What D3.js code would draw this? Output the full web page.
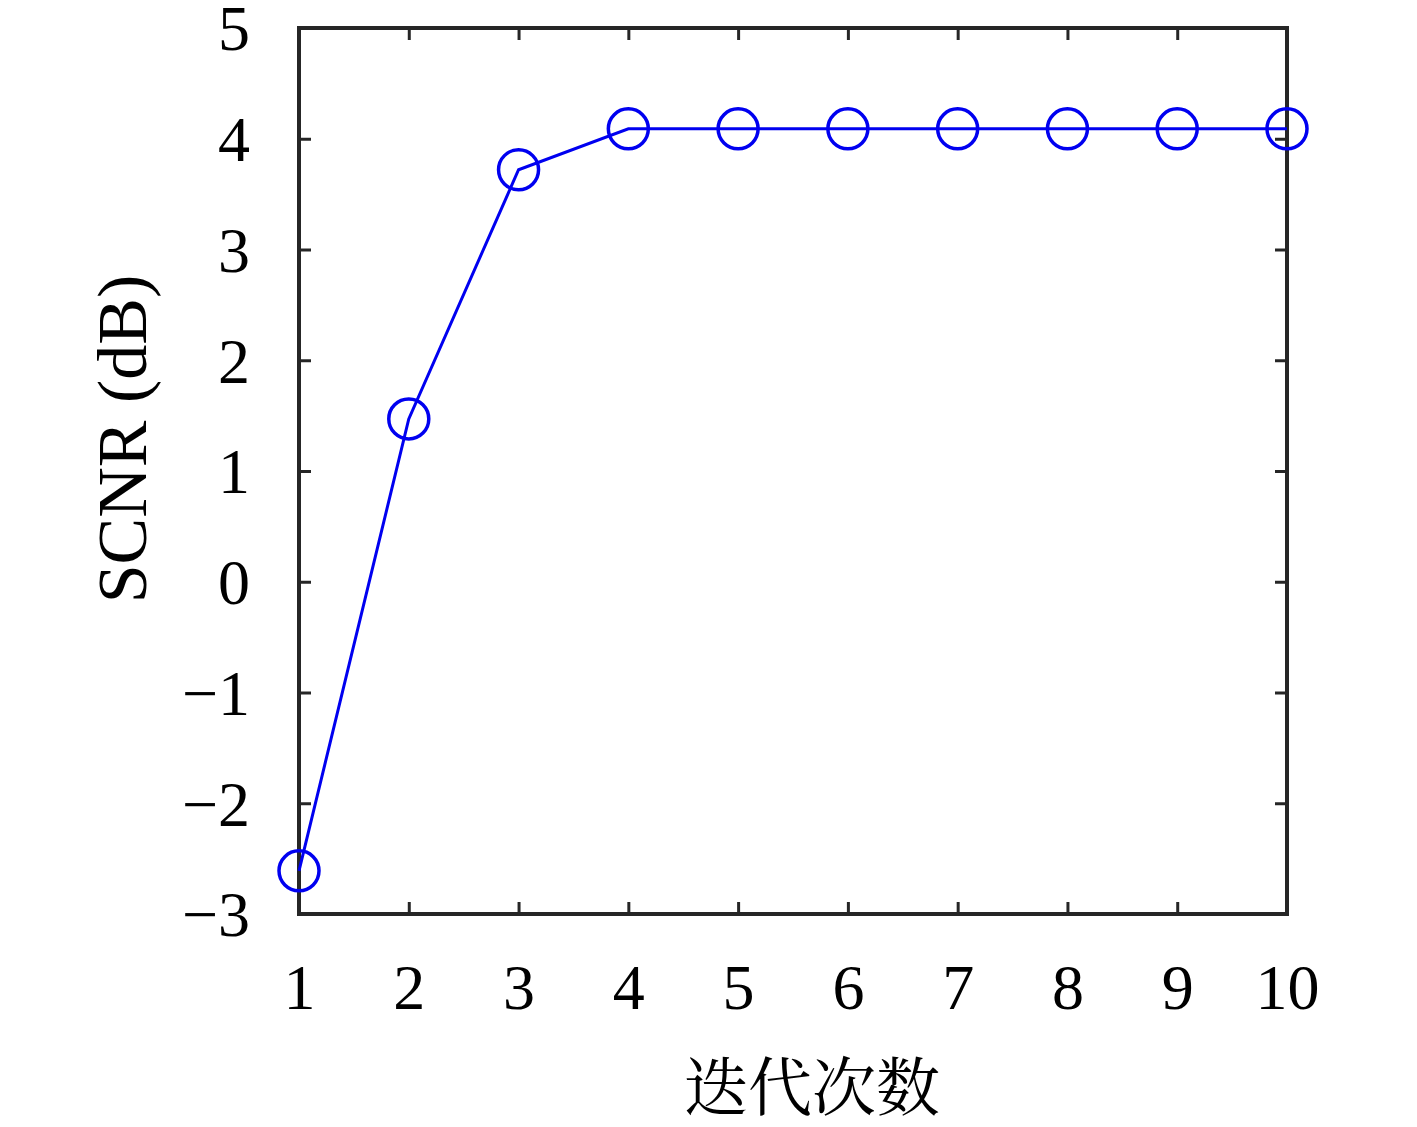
<!DOCTYPE html>
<html>
<head>
<meta charset="utf-8">
<script src="https://cdn.jsdelivr.net/npm/d3@7"></script>
<style>
  body { margin: 0; background: #fff; }
  #chart { width: 1417px; height: 1127px; }
</style>
</head>
<body>
<div id="chart"></div>
<script>
let iterations = [1, 2, 3, 4, 5, 6, 7, 8, 9, 10],
    scnr = [-2.61, 1.47, 3.72, 4.09, 4.09, 4.09, 4.09, 4.09, 4.09, 4.09],
    yTicks = [-3, -2, -1, 0, 1, 2, 3, 4, 5];

let width = 1417,
    height = 1127,
    margin = {left: 299, top: 28, right: 130, bottom: 213},
    clipWidth = width - margin.left - margin.right,
    clipHeight = height - margin.top - margin.bottom;

let svg = d3.select('#chart').append('svg')
    .attr('width', width)
    .attr('height', height);

let g = svg.append('g')
    .attr('transform', `translate(${margin.left}, ${margin.top})`);

let xScale = d3.scaleLinear().domain([1, 10]).range([0, clipWidth]);
let yScale = d3.scaleLinear().domain([-3, 5]).range([clipHeight, 0]);

let axisColor = '#262626',
    serif = '"Liberation Serif", "DejaVu Serif", serif';

// ticks pointing inward on all four sides
function styleAxis(sel) {
    sel.select('.domain').remove();
    sel.selectAll('.tick line').attr('stroke', axisColor).attr('stroke-width', 3);
    sel.selectAll('.tick text')
        .attr('fill', '#000')
        .style('font-family', serif)
        .style('font-size', '64px');
}

g.append('g')
    .attr('transform', `translate(0, ${clipHeight})`)
    .call(d3.axisBottom(xScale).tickValues(iterations).tickSize(-12)
        .tickFormat(d3.format('d')))
    .call(styleAxis)
    .selectAll('.tick text')
    .attr('y', 95)
    .attr('dy', null);

g.append('g')
    .call(d3.axisTop(xScale).tickValues(iterations).tickSize(-12).tickFormat(''))
    .call(styleAxis);

g.append('g')
    .call(d3.axisLeft(yScale).tickValues(yTicks).tickSize(-12).tickPadding(49)
        .tickFormat(d => d < 0 ? '\u2212' + Math.abs(d) : d))
    .call(styleAxis)
    .selectAll('.tick text')
    .attr('dy', '0.34em');

g.append('g')
    .attr('transform', `translate(${clipWidth}, 0)`)
    .call(d3.axisRight(yScale).tickValues(yTicks).tickSize(-12).tickFormat(''))
    .call(styleAxis);

// box
g.append('rect')
    .attr('width', clipWidth)
    .attr('height', clipHeight)
    .attr('fill', 'none')
    .attr('stroke', axisColor)
    .attr('stroke-width', 4);

let data = iterations.map((d, i) => [d, scnr[i]]);

g.append('path')
    .datum(data)
    .attr('fill', 'none')
    .attr('stroke', '#0000f0')
    .attr('stroke-width', 3)
    .attr('d', d3.line().x(d => xScale(d[0])).y(d => yScale(d[1])));

g.selectAll('.marker')
    .data(data)
    .join('circle')
    .attr('class', 'marker')
    .attr('cx', d => xScale(d[0]))
    .attr('cy', d => yScale(d[1]))
    .attr('r', 20)
    .attr('fill', 'none')
    .attr('stroke', '#0000f0')
    .attr('stroke-width', 3.5);

svg.append('text')
    .attr('transform', 'translate(146, 439) rotate(-90)')
    .attr('text-anchor', 'middle')
    .style('font-family', serif)
    .style('font-size', '70px')
    .text('SCNR (dB)');

svg.append('text')
    .attr('x', 812)
    .attr('y', 1110)
    .attr('text-anchor', 'middle')
    .style('font-family', '"Noto Serif CJK SC", "Noto Sans CJK SC", serif')
    .style('font-size', '64px')
    .text('迭代次数');
</script>
</body>
</html>
